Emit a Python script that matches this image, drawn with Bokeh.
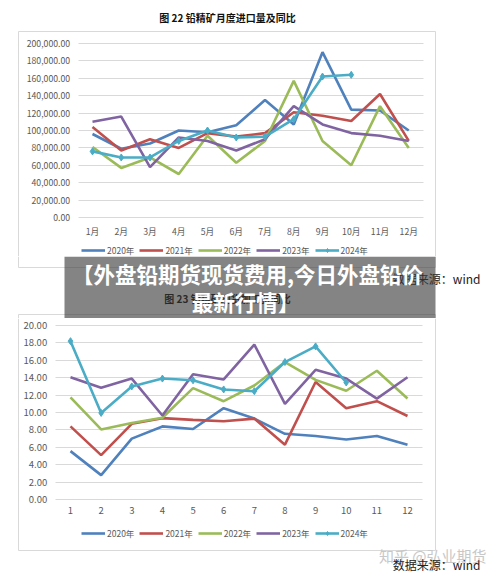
from bokeh.plotting import figure
from bokeh.layouts import column
from bokeh.models import (Legend, LegendItem, NumeralTickFormatter, FixedTicker,
                          Range1d, Grid)
from bokeh.core.properties import value
from bokeh.embed import file_html
from bokeh.resources import INLINE

FONT = "Noto Sans CJK SC"

# ---- data ----
months = [1, 2, 3, 4, 5, 6, 7, 8, 9, 10, 11, 12]
month_labels_cn = ["1月", "2月", "3月", "4月", "5月", "6月", "7月", "8月", "9月", "10月", "11月", "12月"]
years = ["2020年", "2021年", "2022年", "2023年", "2024年"]
colors = ["#4F81BD", "#C0504D", "#9BBB59", "#8064A2", "#4BACC6"]

# lead concentrate monthly imports (tonnes)
imp_2020 = [96000, 79000, 85000, 100000, 98000, 106000, 135000, 107000, 190000, 124000, 123000, 100000]
imp_2021 = [104000, 77000, 90000, 80000, 97000, 93000, 97000, 121000, 117000, 111000, 142000, 88000]
imp_2022 = [81000, 57000, 69000, 50000, 94000, 63000, 88000, 157000, 88000, 60000, 128000, 80000]
imp_2023 = [110000, 116000, 58000, 92000, 88000, 77000, 90000, 128000, 107000, 97000, 94000, 88000]
imp_2024 = [76000, 69000, 69000, 88000, 100000, 92000, 93000, 113000, 162000, 164000]
imp_ticks = [0, 20000, 40000, 60000, 80000, 100000, 120000, 140000, 160000, 180000, 200000]

# second panel, monthly values
fee_2020 = [5.56, 2.8, 7.0, 8.4, 8.1, 10.5, 9.3, 7.55, 7.3, 6.9, 7.3, 6.3]
fee_2021 = [8.4, 5.1, 8.7, 9.35, 9.15, 9.0, 9.3, 6.3, 13.5, 10.5, 11.3, 9.6]
fee_2022 = [11.75, 8.05, 8.8, 9.4, 12.8, 11.3, 13.1, 15.8, 13.75, 12.5, 14.8, 11.6]
fee_2023 = [14.05, 12.85, 13.9, 9.65, 14.4, 13.8, 17.8, 11.0, 14.9, 13.9, 11.6, 14.05]
fee_2024 = [18.2, 9.95, 13.0, 13.9, 13.7, 12.65, 12.45, 15.8, 17.6, 13.45]
fee_ticks = [0, 2, 4, 6, 8, 10, 12, 14, 16, 18, 20]

title_top = "图 22 铅精矿月度进口量及同比"
title_bottom = "图 23 铅精矿现货加工费同比"
source_text = "数据来源：wind"
headline_1 = "【外盘铅期货现货费用,今日外盘铅价"
headline_2 = "最新行情】"
watermark = "知乎 @弘业期货"

GRID = "#D9D9D9"
BOX = "#D9D9D9"
TICK = "#595959"
W = 500


def base_figure(page_top, page_bottom, x_range, y_range):
    """A figure whose frame fills the whole canvas; a 'px' range pair maps
    page pixel coordinates for the decorations."""
    p = figure(width=W, height=page_bottom - page_top, x_range=x_range, y_range=y_range,
               output_backend="svg", toolbar_location=None, min_border=0)
    p.extra_x_ranges = {"px": Range1d(0, W)}
    p.extra_y_ranges = {"px": Range1d(page_bottom, page_top)}
    p.outline_line_color = None
    p.background_fill_color = "white"
    p.border_fill_color = "white"
    return p


def deco_lines(p, segs):
    xs0, ys0, xs1, ys1 = zip(*segs)
    p.segment(x0=list(xs0), y0=list(ys0), x1=list(xs1), y1=list(ys1),
              line_color=BOX, line_width=1, x_range_name="px", y_range_name="px")


def deco_text(p, x, y, text, size, color, align="center", style="normal"):
    p.text(x=[x], y=[y], text=[text], x_range_name="px", y_range_name="px",
           text_font=value(FONT), text_font_size=value(size), text_color=color,
           text_align=align, text_baseline="middle", text_font_style=style)


def chart(page_top, page_bottom, c1_px, step_px, zero_px, top_px, ymax, ticks, fmt,
          series, tick_labels, label_size, legend_y):
    sx = 1.0 / step_px                      # month units per pixel
    sy = ymax / (zero_px - top_px)          # value units per pixel
    xr = Range1d(1 + (0 - c1_px) * sx, 1 + (W - c1_px) * sx)
    yr = Range1d((zero_px - page_bottom) * sy, (zero_px - page_top) * sy)
    p = base_figure(page_top, page_bottom, xr, yr)

    xa, ya = p.xaxis[0], p.yaxis[0]
    xa.fixed_location = 0
    ya.fixed_location = 0.5
    xa.ticker = FixedTicker(ticks=months)
    ya.ticker = FixedTicker(ticks=ticks)
    ya.formatter = NumeralTickFormatter(format=fmt)
    if tick_labels is not None:
        xa.major_label_overrides = {m: t for m, t in zip(months, tick_labels)}
    for ax in (xa, ya):
        ax.axis_line_color = None
        ax.major_tick_line_color = None
        ax.minor_tick_line_color = None
        ax.major_label_text_font = FONT
        ax.major_label_text_font_size = label_size
        ax.major_label_text_color = TICK
    xa.major_label_standoff = 1
    ya.major_label_standoff = 2

    p.xgrid.grid_line_color = None
    if "cross_bounds" in Grid.properties():
        p.ygrid.grid_line_color = GRID
        p.ygrid.cross_bounds = (0.5, 12.5)
    else:
        p.ygrid.grid_line_color = None
        p.segment(x0=[0.5] * len(ticks), x1=[12.5] * len(ticks), y0=ticks, y1=ticks,
                  line_color=GRID, line_width=1, level="underlay")

    items = []
    for name, vals, col in zip(years, series, colors):
        xs = months[:len(vals)]
        rs = [p.line(xs, vals, line_color=col, line_width=2.6)]
        if name == "2024年":
            rs.append(p.scatter(xs, vals, marker="diamond", size=7, color=col))
        items.append(LegendItem(label=name, renderers=rs))

    leg = Legend(items=items, orientation="horizontal", location=(81, legend_y),
                 glyph_width=24, glyph_height=10, label_height=10,
                 label_standoff=2, spacing=5, padding=0, margin=0,
                 label_text_font=FONT, label_text_font_size="8.5px",
                 label_text_color=TICK, background_fill_alpha=0,
                 border_line_color=None)
    p.add_layout(leg, "center")
    return p


# ---- top chart (page rows 0..256) ----
pa = chart(0, 256, 92, 28.75, 217, 43, 200000, imp_ticks, "0,0.00",
           [imp_2020, imp_2021, imp_2022, imp_2023, imp_2024], month_labels_cn, "8.7px", 0)
deco_lines(pa, [(18, 31, 435, 31), (18, 31, 18, 256), (435, 31, 435, 256)])
deco_text(pa, 227, 17, title_top, "10px", "#111111", style="bold")

# ---- band between the charts with the headline (page rows 256..318) ----
pc = base_figure(256, 318, Range1d(0, W), Range1d(318, 256))
pc.xaxis.visible = False
pc.yaxis.visible = False
pc.grid.visible = False
deco_lines(pc, [(18, 256, 18, 267), (435, 256, 435, 267), (18, 267, 435, 267),
                (18, 314, 435, 314), (18, 314, 18, 318), (435, 314, 435, 318)])
deco_text(pc, 227, 298, title_bottom, "10px", "#111111", style="bold")
deco_text(pc, 480, 278, source_text, "12px", "#222222", align="right")
pc.quad(left=[64], right=[435], top=[256], bottom=[318], fill_color="#383838",
        fill_alpha=0.62, line_alpha=0, x_range_name="px", y_range_name="px")
deco_text(pc, 247, 273, headline_1, "21.5px", "white", style="bold")
deco_text(pc, 245, 301, headline_2, "21.5px", "white", style="bold")

# ---- bottom chart (page rows 318..576) ----
pb = chart(318, 576, 70, 30.636, 499, 325, 20, fee_ticks, "0.00",
           [fee_2020, fee_2021, fee_2022, fee_2023, fee_2024], None, "9.5px", 37)
deco_lines(pb, [(18, 318, 18, 550), (435, 318, 435, 550), (18, 550, 435, 550)])
deco_text(pb, 486, 555, watermark, "15px", "#C8C8C8", align="right")
deco_text(pb, 480, 564, source_text, "12px", "#222222", align="right")

layout = column(pa, pc, pb, spacing=0)
open("out.html", "w").write(file_html(layout, INLINE))
